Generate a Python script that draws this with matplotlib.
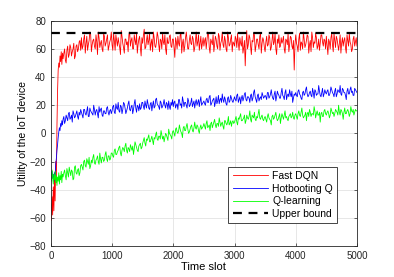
import numpy as np
import matplotlib
matplotlib.use("Agg")
import matplotlib.pyplot as plt

# time slots: fine steps at the start, then every 25 slots, plus the midpoints in between
t_early = list(range(0, 200, 10))
t_main = list(range(200, 5001, 25))
t_mid = list(np.arange(212.5, 5000, 25))

fast_dqn = [
    -50, -62, -45, -58, -38, -55, -30, -48, -20, -35, 5, 30, 45, 50, 47, 55, 51, 58, 49, 57,
    53, 60, 50, 62, 56, 61, 58, 64, 55, 63, 60, 66,
    68, 62, 70, 64, 59, 66, 71, 63, 67, 60, 65, 72, 61, 66, 58, 69, 64, 70, 62, 67,
    63, 71, 59, 66, 68, 61, 73, 64, 57, 67, 65, 70, 62, 68, 60, 66, 71, 63, 69, 55,
    64, 74, 61, 70, 66, 59, 67, 72, 62, 65, 69, 58, 66, 71, 63, 60, 68, 64, 70, 61,
    67, 54, 65, 69, 62, 71, 64, 58, 68, 66, 60, 70, 63, 67, 61, 72, 65, 59, 69, 64,
    62, 68, 66, 71, 57, 65, 70, 63, 67, 60, 69, 64, 72, 61, 66, 58, 68, 63, 70, 65,
    62, 67, 71, 59, 64, 69, 61, 48, 73, 63, 68, 56, 65, 70, 62, 67, 60, 71, 64, 66,
    58, 69, 63, 68, 61, 72, 65, 60, 67, 70, 62, 64, 69, 57, 66, 71, 63, 68, 60, 45,
    70, 62, 67, 59, 64, 72, 61, 66, 69, 63, 58, 68, 65, 71, 60, 67, 64, 70, 62, 66,
    69, 56, 65, 68, 63, 71, 61, 67, 59, 70, 64, 62, 68, 57, 66, 71, 63, 60, 69, 65,
    62,
]
fast_dqn_mid = [
    57, 52, 59, 54, 63, 55, 60, 53, 62, 58, 65, 59,
    60, 67, 57, 69, 63, 72, 58, 66, 62, 70, 56, 68, 64, 60, 71, 62, 67, 59, 65, 72,
    59, 66, 70, 62, 64, 56, 69, 61, 67, 63, 58, 72, 66, 60, 70, 63, 57, 67, 61, 68,
    70, 60, 66, 63, 71, 64, 58, 68, 61, 72, 63, 67, 60, 65, 70, 56, 64, 69, 62, 67,
    61, 68, 60, 64, 70, 57, 67, 62, 72, 60, 66, 64, 69, 58, 66, 62, 70, 64, 60, 68,
    66, 60, 72, 61, 67, 63, 58, 69, 62, 71, 59, 66, 63, 69, 60, 72, 62, 67, 58, 64,
    69, 61, 64, 68, 62, 57, 66, 63, 60, 70, 62, 66, 71, 58, 67, 63, 69, 57, 68, 61,
    65, 62, 70, 59, 66, 63, 71, 56, 64, 61, 68, 66, 60, 67, 63, 58, 69, 62, 66, 63,
    64, 58, 71, 65, 60, 67, 63, 70, 57, 66, 72, 61, 64, 68, 62, 59, 70, 65, 67, 60,
    62, 67, 60, 71, 58, 66, 69, 63, 64, 57, 68, 66, 61, 70, 62, 65, 58, 67, 62, 68,
]

hotbooting_q = [
    -28, -33, -27, -32, -29, -34, -28, -30, -22, -18, -12, -8, -3, 1, 4, 2, 7, 5, 9, 6,
    10, 7, 13, 9, 15, 11, 8, 14, 12, 16, 10, 13,
    15, 11, 17, 13, 19, 12, 16, 14, 20, 13, 17, 11, 15, 18, 12, 16, 14, 19, 13, 17,
    16, 20, 14, 18, 22, 15, 19, 17, 21, 14, 18, 23, 16, 20, 17, 24, 15, 19, 21, 18,
    22, 17, 20, 24, 18, 21, 16, 23, 19, 25, 20, 17, 22, 19, 24, 18, 21, 23, 17, 20,
    19, 23, 20, 17, 24, 21, 26, 19, 22, 18, 23, 20, 25, 21, 18, 24, 22, 19, 26, 21,
    23, 20, 25, 22, 27, 21, 24, 19, 26, 23, 21, 25, 28, 22, 24, 20, 26, 23, 25, 22,
    26, 23, 28, 24, 21, 27, 25, 29, 23, 26, 22, 28, 25, 31, 24, 27, 23, 26, 29, 25,
    27, 24, 29, 26, 31, 25, 28, 23, 30, 27, 25, 32, 26, 29, 24, 28, 31, 26, 22, 28,
    29, 26, 31, 27, 24, 30, 28, 33, 26, 29, 27, 32, 25, 30, 28, 34, 27, 29, 26, 31,
    28, 31, 27, 33, 29, 26, 32, 28, 30, 34, 27, 31, 29, 24, 32, 28, 33, 30, 27, 31,
    29,
]
hotbooting_q_mid = [
    12, 9, 11, 14, 10, 13, 16, 11, 14, 12, 15, 17,
    13, 17, 14, 16, 12, 18, 15, 13, 17, 16, 14, 19, 17, 13, 16, 14, 18, 15, 16, 14,
    19, 15, 21, 17, 16, 20, 14, 22, 18, 16, 21, 17, 19, 14, 21, 18, 20, 16, 17, 22,
    19, 23, 18, 21, 17, 22, 20, 18, 24, 21, 19, 23, 18, 21, 20, 22, 17, 19, 22, 24,
    22, 18, 21, 24, 20, 18, 23, 22, 20, 25, 19, 22, 19, 23, 22, 20, 24, 23, 20, 22,
    21, 24, 22, 26, 20, 23, 25, 22, 21, 27, 24, 22, 24, 26, 21, 25, 22, 27, 23, 24,
    24, 27, 22, 26, 25, 23, 28, 24, 26, 25, 27, 23, 29, 26, 22, 28, 25, 24, 27, 26,
    26, 29, 25, 28, 27, 24, 30, 26, 28, 25, 29, 27, 24, 31, 27, 26, 28, 30, 25, 27,
    27, 30, 28, 25, 29, 27, 31, 28, 27, 30, 26, 29, 31, 27, 28, 30, 26, 32, 28, 29,
    30, 27, 29, 31, 28, 30, 26, 31, 29, 28, 32, 29, 27, 30, 28, 31, 29, 27, 32, 30,
]

q_learning = [
    -28, -34, -26, -31, -36, -29, -33, -27, -35, -30, -37, -31, -34, -28, -36, -30, -33, -27, -35, -29,
    -31, -26, -33, -28, -24, -30, -27, -32, -23, -29, -25, -28,
    -22, -26, -19, -24, -20, -17, -23, -21, -15, -22, -18, -20, -14, -21, -17, -19, -13, -20, -16, -18,
    -14, -17, -11, -15, -12, -9, -16, -10, -13, -7, -14, -11, -8, -12, -15, -6, -10, -13, -8, -11,
    -7, -3, -9, -5, -1, -6, -2, -8, -4, 1, -5, -2, 2, -4, -6, 0, -3, 3, -1, -4,
    2, -2, 4, 0, 6, 1, -3, 5, 2, 7, 0, 3, 6, 1, 8, 3, 5, 0, 6, 4,
    7, 3, 9, 5, 2, 8, 6, 10, 4, 7, 11, 5, 8, 3, 9, 6, 12, 7, 5, 9,
    8, 12, 6, 10, 14, 9, 11, 7, 13, 10, 16, 8, 12, 15, 9, 11, 17, 10, 13, 9,
    12, 8, 14, 10, 6, 13, 11, 15, 9, 12, 7, 14, 10, 16, 12, 9, 13, 11, 15, 10,
    14, 10, 16, 12, 18, 11, 13, 9, 15, 17, 12, 14, 19, 11, 16, 13, 8, 15, 12, 17,
    13, 16, 11, 18, 14, 12, 17, 15, 20, 13, 16, 10, 18, 14, 17, 12, 19, 15, 13, 17,
    16,
]
q_learning_mid = [
    -28, -30, -25, -31, -27, -26, -33, -24, -28, -26, -30, -23,
    -24, -20, -23, -18, -22, -25, -19, -17, -21, -19, -16, -22, -18, -17, -20, -15, -18, -16, -19, -14,
    -16, -12, -15, -13, -10, -14, -12, -11, -9, -12, -10, -13, -10, -9, -11, -8, -12, -9, -7, -10,
    -5, -7, -4, -3, -6, -4, -5, -3, -1, -4, -2, -4, -1, -2, -3, -1, -5, 0, -2, 1,
    0, 3, 1, 2, 3, 0, 4, 2, 5, 3, 1, 5, 2, 4, 4, 6, 2, 4, 3, 5,
    5, 7, 4, 6, 7, 4, 8, 6, 7, 5, 8, 7, 5, 9, 7, 8, 6, 9, 8, 7,
    10, 8, 11, 12, 9, 10, 13, 9, 11, 12, 10, 13, 11, 10, 12, 14, 11, 12, 10, 11,
    10, 12, 11, 9, 12, 10, 13, 11, 10, 14, 11, 12, 13, 11, 10, 12, 14, 12, 11, 13,
    12, 14, 13, 15, 13, 12, 15, 14, 12, 15, 14, 13, 16, 14, 13, 15, 14, 12, 16, 14,
    15, 14, 13, 16, 15, 14, 16, 13, 15, 17, 14, 15, 14, 16, 15, 14, 16, 17, 15, 16,
]

upper_bound = 71


def merged(main, mid):
    t = np.array(t_early + t_main + t_mid, dtype=float)
    v = np.array(main + mid, dtype=float)
    order = np.argsort(t, kind='stable')
    return t[order], v[order]


plt.rcParams['font.family'] = ['Liberation Sans', 'DejaVu Sans']
fig = plt.figure(figsize=(3.94, 2.77), dpi=100)
ax = fig.add_axes([0.129, 0.112, 0.777, 0.813])

t, v = merged(fast_dqn, fast_dqn_mid)
ax.plot(t, v, color='#ff0000', linewidth=0.6, label='Fast DQN')
t, v = merged(hotbooting_q, hotbooting_q_mid)
ax.plot(t, v, color='#0000ff', linewidth=0.6, label='Hotbooting Q')
t, v = merged(q_learning, q_learning_mid)
ax.plot(t, v, color='#00ff00', linewidth=0.6, label='Q-learning')
ax.plot([0, 5000], [upper_bound, upper_bound], color='k', linestyle=(0, (4, 3)),
        linewidth=1.6, label='Upper bound')

ax.set_xlim(0, 5000)
ax.set_ylim(-80, 80)
ax.set_xticks(range(0, 5001, 1000))
ax.set_yticks(range(-80, 81, 20))
ax.grid(True, color='#e3e3e3', linewidth=0.6)
ax.set_axisbelow(True)
ax.tick_params(direction='in', length=2.5, width=0.5, labelsize=7,
               colors='#262626', top=True, right=True)
for sp in ax.spines.values():
    sp.set_color('#262626')
    sp.set_linewidth(0.6)

ax.set_xlabel('Time slot', fontsize=8, labelpad=1)
ax.set_ylabel('Utility of the IoT device', fontsize=7.5, labelpad=1)

leg = ax.legend(loc='lower right', bbox_to_anchor=(0.935, 0.102), fontsize=7.5,
                handlelength=3.4, handletextpad=0.4, labelspacing=0.25,
                borderpad=0.4, borderaxespad=0, fancybox=False, framealpha=1)
leg.get_frame().set_edgecolor('#262626')
leg.get_frame().set_linewidth(0.6)

fig.savefig('out.png', dpi=100)
